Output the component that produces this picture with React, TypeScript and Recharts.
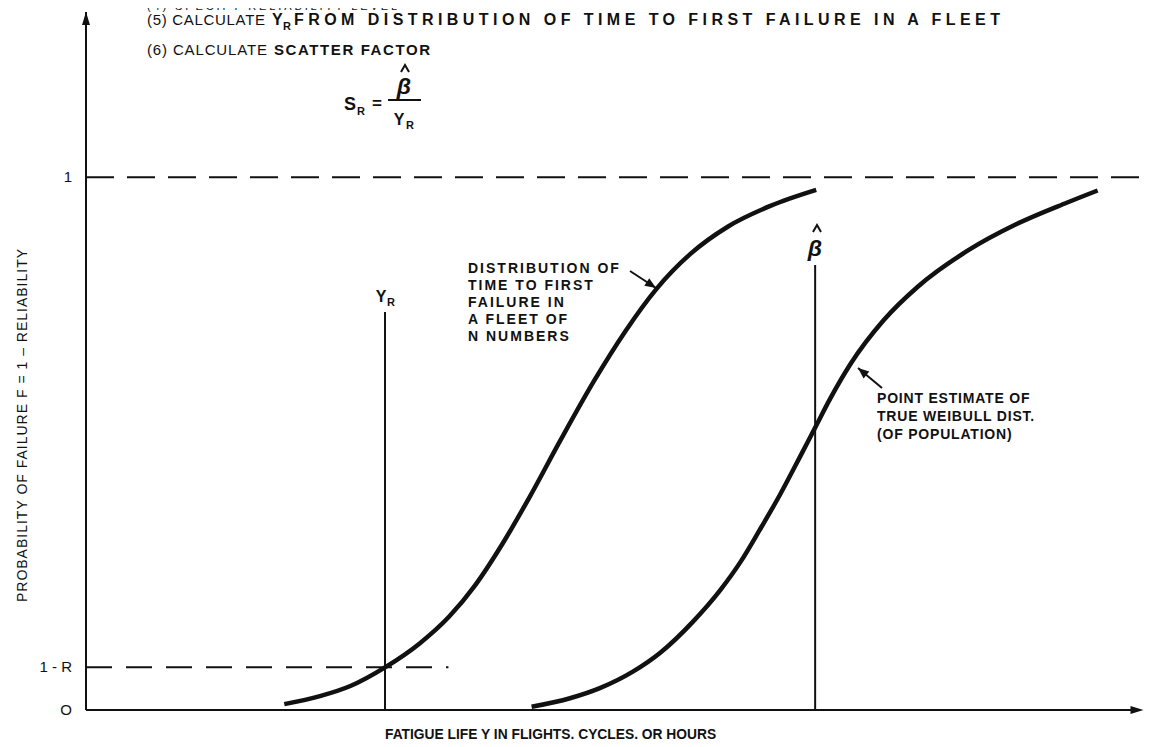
import React from "react";
import { LineChart, Line, XAxis, YAxis, ReferenceLine, ReferenceDot } from "recharts";

// time to first failure in a fleet of N members (x in arbitrary life units, F = probability of failure)
const fleetX = [18.6, 21.95, 24.8, 28.05, 31.3, 34.05, 36.5, 39.1, 41.65, 44.5, 47.7, 50.6, 53.5, 56.7, 60.2, 64.2, 68.5];
const fleetF = [0.011, 0.026, 0.045, 0.08, 0.125, 0.175, 0.234, 0.313, 0.401, 0.506, 0.619, 0.711, 0.79, 0.856, 0.907, 0.946, 0.976];

// point estimate of the true Weibull distribution of the population
const popX = [41.8, 45.4, 48.2, 51.3, 53.9, 56.9, 59.5, 61.4, 63.2, 65.1, 67.0, 68.4, 69.8, 71.7, 74.8, 78.0, 82.7, 87.3, 92.0, 94.9];
const popF = [0.006, 0.022, 0.041, 0.072, 0.108, 0.165, 0.225, 0.278, 0.338, 0.404, 0.476, 0.53, 0.584, 0.649, 0.731, 0.794, 0.862, 0.912, 0.952, 0.975];

const yTicks = [0, 0.08, 1];
const yTickLabels = ["O", "1 - R", "1"];

const Y_R = 28.05;
const BETA_HAT = 68.4;
const ONE_MINUS_R = 0.08;
const Y_R_TOP = 0.747;
const BETA_TOP = 0.835;
const X_MAX = 100;
const X_ARROW = 99.2;
const F_MAX = 1.31;

const fleetData = fleetX.map((x, i) => ({ x, f: fleetF[i] }));
const popData = popX.map((x, i) => ({ x, f: popF[i] }));

const INK = "#111";
const FONT = "'Liberation Sans', Arial, Helvetica, sans-serif";

function YTick(props: any) {
  const { x, y, payload } = props;
  const idx = yTicks.indexOf(payload.value);
  return (
    <text x={x - 6} y={y + 5} textAnchor="end" fontFamily={FONT} fontSize={15} fill={INK}>
      {yTickLabels[idx]}
    </text>
  );
}

function arrowHead(x1: number, y1: number, x2: number, y2: number, len = 11, half = 4.5) {
  const a = Math.atan2(y2 - y1, x2 - x1);
  const bx = x2 - len * Math.cos(a);
  const by = y2 - len * Math.sin(a);
  const px = -Math.sin(a) * half;
  const py = Math.cos(a) * half;
  return `${x2},${y2} ${bx + px},${by + py} ${bx - px},${by - py}`;
}

function Pointer({ x1, y1, x2, y2 }: { x1: number; y1: number; x2: number; y2: number }) {
  return (
    <g>
      <line x1={x1} y1={y1} x2={x2} y2={y2} stroke={INK} strokeWidth={2} />
      <polygon points={arrowHead(x1, y1, x2, y2)} fill={INK} />
    </g>
  );
}

// circumflex accent over beta, drawn as a stroke
function Hat({ cx, top }: { cx: number; top: number }) {
  return (
    <polyline
      points={`${cx - 4},${top + 7} ${cx},${top} ${cx + 4},${top + 7}`}
      fill="none"
      stroke={INK}
      strokeWidth={2}
    />
  );
}

const bold = { fontFamily: FONT, fontWeight: 700, fill: INK } as const;
const plain = { fontFamily: FONT, fontWeight: 400, fill: INK } as const;

export default function App() {
  const fleetLines = ["DISTRIBUTION OF", "TIME TO FIRST", "FAILURE IN", "A FLEET OF", "N NUMBERS"];
  const popLines = ["POINT ESTIMATE OF", "TRUE WEIBULL DIST.", "(OF POPULATION)"];

  return (
    <div style={{ position: "relative", width: 1152, height: 747, margin: -8, background: "#fff" }}>
      <LineChart width={1152} height={747} margin={{ top: 12, right: 0, bottom: 37, left: 0 }}>
        <XAxis type="number" dataKey="x" domain={[0, X_MAX]} hide />
        <YAxis
          type="number"
          domain={[0, F_MAX]}
          ticks={yTicks}
          interval={0}
          width={86}
          tickLine={false}
          axisLine={{ stroke: INK, strokeWidth: 2 }}
          tick={<YTick />}
        />
        <ReferenceLine segment={[{ x: 0, y: 0 }, { x: X_ARROW - 1, y: 0 }]} stroke={INK} strokeWidth={2} />
        <ReferenceLine segment={[{ x: 0, y: 1 }, { x: X_MAX, y: 1 }]} stroke={INK} strokeWidth={2} strokeDasharray="28 13" />
        <ReferenceLine
          segment={[{ x: 0, y: ONE_MINUS_R }, { x: 34.0, y: ONE_MINUS_R }]}
          stroke={INK}
          strokeWidth={2}
          strokeDasharray="26 14"
        />
        <ReferenceLine segment={[{ x: Y_R, y: 0 }, { x: Y_R, y: Y_R_TOP }]} stroke={INK} strokeWidth={2} />
        <ReferenceLine segment={[{ x: BETA_HAT, y: 0 }, { x: BETA_HAT, y: BETA_TOP }]} stroke={INK} strokeWidth={2} />
        <ReferenceDot
          x={0}
          y={F_MAX}
          r={0}
          ifOverflow="visible"
          shape={(p: any) => <polygon points={`${p.cx},${p.cy} ${p.cx - 4},${p.cy + 13} ${p.cx + 4},${p.cy + 13}`} fill={INK} />}
        />
        <ReferenceDot
          x={X_ARROW}
          y={0}
          r={0}
          ifOverflow="visible"
          shape={(p: any) => <polygon points={`${p.cx},${p.cy} ${p.cx - 13},${p.cy - 4} ${p.cx - 13},${p.cy + 4}`} fill={INK} />}
        />
        <Line data={fleetData} dataKey="f" type="monotone" stroke={INK} strokeWidth={4.5} dot={false} isAnimationActive={false} />
        <Line data={popData} dataKey="f" type="monotone" stroke={INK} strokeWidth={4.5} dot={false} isAnimationActive={false} />
      </LineChart>

      <svg width={1152} height={747} style={{ position: "absolute", left: 0, top: 0, pointerEvents: "none" }}>
        {/* procedure steps */}
        <text x={147} y={10} fontSize={11} {...plain} textLength={250} lengthAdjust="spacing">(4) SPECIFY RELIABILITY LEVEL</text>
        <text x={147} y={25} fontSize={15} {...plain} textLength={118} lengthAdjust="spacing">(5) CALCULATE</text>
        <text x={272} y={25} fontSize={16} {...bold}>Y</text>
        <text x={283} y={30} fontSize={11} {...bold}>R</text>
        <text x={294} y={25} fontSize={16} {...bold} textLength={706} lengthAdjust="spacing">
          FROM DISTRIBUTION OF TIME TO FIRST FAILURE IN A FLEET
        </text>
        <text x={147} y={55} fontSize={15} {...plain} textLength={120} lengthAdjust="spacing">(6) CALCULATE</text>
        <text x={274} y={55} fontSize={15} {...bold} textLength={156} lengthAdjust="spacing">SCATTER FACTOR</text>

        {/* S_R = beta / Y_R */}
        <text x={344} y={110} fontSize={18} {...bold}>S</text>
        <text x={357} y={115} fontSize={11} {...bold}>R</text>
        <text x={372} y={109} fontSize={17} {...bold}>=</text>
        <Hat cx={405} top={65} />
        <text x={404} y={94} fontSize={23} textAnchor="middle" fontStyle="italic" {...bold}>β</text>
        <line x1={388} y1={100} x2={421} y2={100} stroke={INK} strokeWidth={2} />
        <text x={399} y={125} fontSize={16} textAnchor="middle" {...bold}>Y</text>
        <text x={410} y={129} fontSize={11} textAnchor="middle" {...bold}>R</text>

        {/* vertical line labels */}
        <text x={381} y={302} fontSize={16} textAnchor="middle" {...bold}>Y</text>
        <text x={391} y={306} fontSize={11} textAnchor="middle" {...bold}>R</text>
        <Hat cx={817} top={225} />
        <text x={815} y={256} fontSize={23} textAnchor="middle" fontStyle="italic" {...bold}>β</text>

        {/* curve annotations */}
        {fleetLines.map((s, i) => (
          <text key={s} x={468} y={273 + i * 17} fontSize={14} letterSpacing={2} {...bold}>{s}</text>
        ))}
        <Pointer x1={630} y1={271} x2={656} y2={288} />
        {popLines.map((s, i) => (
          <text key={s} x={877} y={403 + i * 18} fontSize={14} letterSpacing={0.8} {...bold}>{s}</text>
        ))}
        <Pointer x1={882} y1={388} x2={858} y2={368} />

        {/* axis titles */}
        <text
          x={0}
          y={0}
          transform="translate(27,425) rotate(-90)"
          textAnchor="middle"
          fontSize={14}
          letterSpacing={1}
          {...plain}
        >
          PROBABILITY OF FAILURE F = 1 – RELIABILITY
        </text>
        <text x={385} y={739} fontSize={13.8} {...bold}>FATIGUE LIFE Y IN FLIGHTS, CYCLES, OR HOURS</text>
      </svg>
    </div>
  );
}
